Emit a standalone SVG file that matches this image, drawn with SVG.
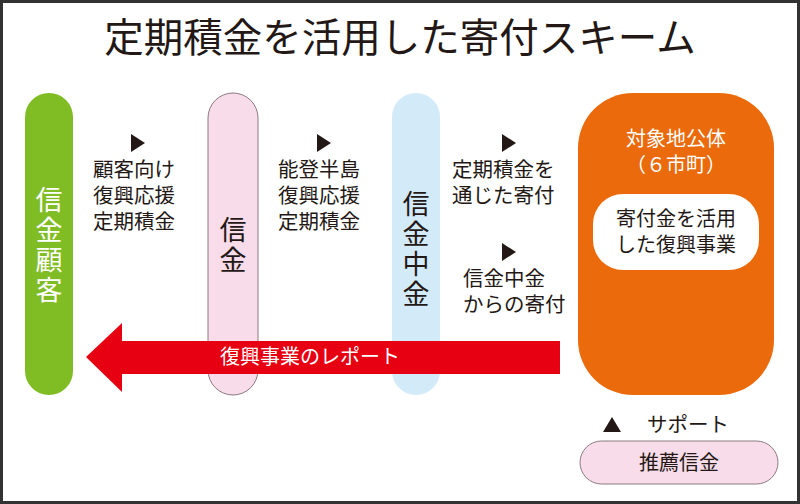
<svg xmlns="http://www.w3.org/2000/svg" width="800" height="504" viewBox="0 0 800 504">
<style>
text{font-family:"Noto Sans CJK JP","Noto Sans",sans-serif;}
.lb{font-size:20.5px;fill:#231815;}
.tri{fill:#231815;}
.v{font-size:27px;text-anchor:middle;writing-mode:vertical-rl;letter-spacing:3px;}
</style>
<rect x="1.5" y="1.5" width="797" height="501" fill="#fff" stroke="#333" stroke-width="3"/>
<text x="400" y="52" font-size="39.5" text-anchor="middle" fill="#231815">定期積金を活用した寄付スキーム</text>
<g id="customer"><rect x="25" y="93" width="48" height="302" rx="24" fill="#80bc24"/>
<text class="v" fill="#fff" x="49" y="246">信金顧客</text></g>
<g id="shinkin"><rect x="208" y="93" width="50" height="302" rx="25" fill="#f8dce9" stroke="#8a7a80" stroke-width="1"/>
<text class="v" fill="#231815" x="233" y="246">信金</text></g>
<g id="chukin"><rect x="392" y="93" width="48" height="302" rx="24" fill="#d3eaf8"/>
<text class="v" fill="#231815" x="416" y="250">信金中金</text></g>
<g id="local"><rect x="578" y="93" width="196" height="302" rx="55" fill="#ea6a0c"/>
<text x="676" y="146" font-size="20" fill="#fff" text-anchor="middle">対象地公体</text>
<text x="676" y="172" font-size="20" fill="#fff" text-anchor="middle">（６市町）</text>
<rect x="593" y="194" width="166" height="76" rx="30" fill="#fff"/>
<text x="676" y="226" font-size="20" fill="#231815" text-anchor="middle">寄付金を活用</text>
<text x="676" y="252" font-size="20" fill="#231815" text-anchor="middle">した復興事業</text></g>
<g id="connectors">
<polygon points="560,341 122,341 122,323 86,357 122,392 122,374 560,374" fill="#e60012"/>
<text x="310" y="364" font-size="20" fill="#fff" text-anchor="middle">復興事業のレポート</text>
<polygon class="tri" points="131,134 145,143 131,152"/>
<text class="lb"><tspan x="93" y="177">顧客向け</tspan><tspan x="93" y="203">復興応援</tspan><tspan x="93" y="229">定期積金</tspan></text>
<polygon class="tri" points="317,134 331,143 317,152"/>
<text class="lb"><tspan x="278" y="177">能登半島</tspan><tspan x="278" y="203">復興応援</tspan><tspan x="278" y="229">定期積金</tspan></text>
<polygon class="tri" points="502,134 516,143 502,152"/>
<text class="lb"><tspan x="452" y="177">定期積金を</tspan><tspan x="452" y="203">通じた寄付</tspan></text>
<polygon class="tri" points="502,243 516,252 502,261"/>
<text class="lb"><tspan x="463" y="286">信金中金</tspan><tspan x="463" y="312">からの寄付</tspan></text>
<polygon class="tri" points="603,432 612,417 621,432"/>
<text class="lb" x="647" y="432">サポート</text>
</g>
<g id="suisen"><rect x="580" y="441" width="198" height="43" rx="21.5" fill="#f8dce9" stroke="#8a7a80" stroke-width="1"/>
<text x="679" y="470" font-size="20" fill="#231815" text-anchor="middle">推薦信金</text></g>
</svg>
